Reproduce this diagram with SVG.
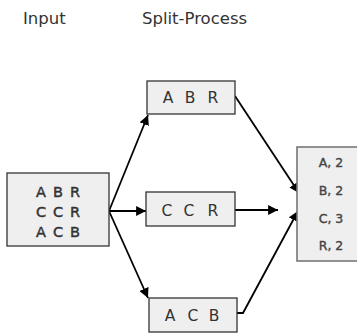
<svg xmlns="http://www.w3.org/2000/svg" width="357" height="333" viewBox="0 0 357 333">
<style>
.title{font-family:"DejaVu Sans",sans-serif;font-size:16.5px;fill:#333}
.box{fill:#efefef;stroke:#333;stroke-width:1.3}
.rbox{fill:#efefef;stroke:#777;stroke-width:1.6}
.t{font-family:"DejaVu Sans",sans-serif;font-size:15.5px;fill:#333;text-anchor:middle}
.tb{font-family:"DejaVu Sans",sans-serif;font-size:14.5px;fill:#333;stroke:#333;stroke-width:0.45;text-anchor:middle}
.tr{font-family:"DejaVu Sans",sans-serif;font-size:12.5px;fill:#444;stroke:#444;stroke-width:0.4;text-anchor:middle}
.c{stroke:#000;stroke-width:1.8;fill:none}
</style>
<defs>
<marker id="ah" viewBox="0 0 10 10" refX="10" refY="5" markerWidth="5.5" markerHeight="5.5" orient="auto" markerUnits="strokeWidth">
<path d="M0,0 L10,5 L0,10 z" fill="#000"/>
</marker>
</defs>
<rect width="357" height="333" fill="#fff"/>
<text class="title" x="23" y="24">Input</text>
<text class="title" x="142" y="24">Split-Process</text>

<g id="connectors">
<line class="c" x1="109" y1="211" x2="148" y2="115" marker-end="url(#ah)"/>
<line class="c" x1="109" y1="211" x2="146" y2="211" marker-end="url(#ah)"/>
<line class="c" x1="109" y1="211" x2="148" y2="298" marker-end="url(#ah)"/>
<line class="c" x1="235" y1="96" x2="299" y2="193" marker-end="url(#ah)"/>
<line class="c" x1="235" y1="210" x2="278" y2="210" marker-end="url(#ah)"/>
<polyline class="c" points="237,313 243,313 298,211" marker-end="url(#ah)"/>
</g>

<g id="input">
<rect class="box" x="7" y="173" width="102" height="73"/>
<text class="tb" x="41" y="197">A</text><text class="tb" x="58" y="197">B</text><text class="tb" x="75" y="197">R</text>
<text class="tb" x="41" y="217">C</text><text class="tb" x="58" y="217">C</text><text class="tb" x="75" y="217">R</text>
<text class="tb" x="41" y="237">A</text><text class="tb" x="58" y="237">C</text><text class="tb" x="75" y="237">B</text>
</g>

<g id="split1">
<rect class="box" x="147" y="81" width="88" height="33"/>
<text class="t" x="168" y="103">A</text><text class="t" x="190" y="103">B</text><text class="t" x="213" y="103">R</text>
</g>

<g id="split2">
<rect class="box" x="146" y="192" width="89" height="34"/>
<text class="t" x="167" y="216">C</text><text class="t" x="189" y="216">C</text><text class="t" x="213" y="216">R</text>
</g>

<g id="split3">
<rect class="box" x="149" y="298" width="88" height="34"/>
<text class="t" x="170" y="321">A</text><text class="t" x="193" y="321">C</text><text class="t" x="214" y="321">B</text>
</g>

<g id="result">
<rect class="rbox" x="297" y="147" width="70" height="114"/>
<text class="tr" x="331" y="167">A, 2</text>
<text class="tr" x="331" y="195">B, 2</text>
<text class="tr" x="331" y="223">C, 3</text>
<text class="tr" x="331" y="250">R, 2</text>
</g>
</svg>
